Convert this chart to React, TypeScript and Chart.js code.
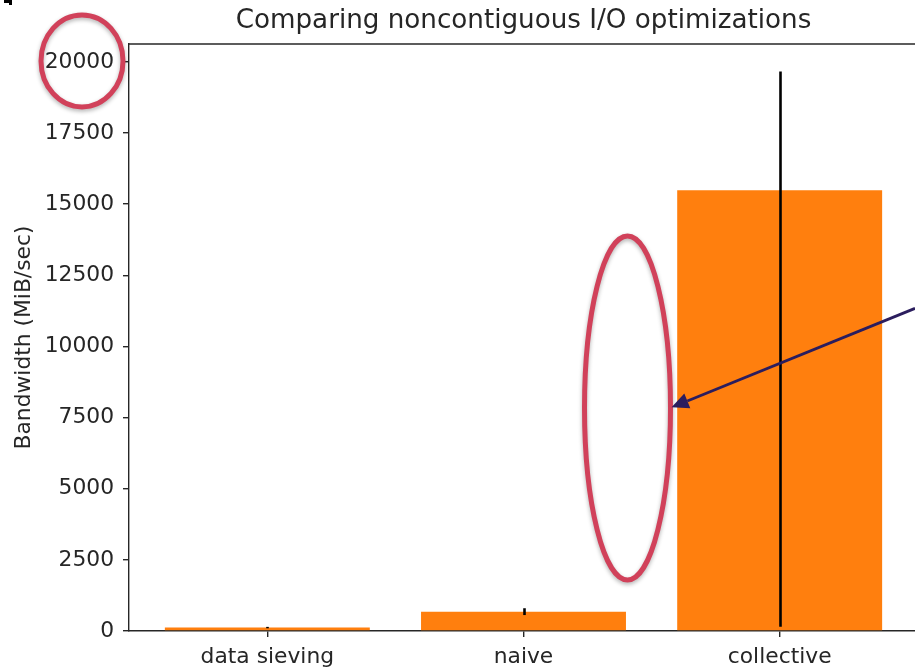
import React, { useEffect, useRef } from "react";
import { Chart, registerables } from "chart.js";

Chart.register(...registerables);

const categories = ["data sieving", "naive", "collective"];
const bandwidth = [120, 680, 15490];
const errLow = [95, 560, 150];
const errHigh = [145, 800, 19660];
const yTicks = [0, 2500, 5000, 7500, 10000, 12500, 15000, 17500, 20000];
const titleText = "Comparing noncontiguous I/O optimizations";
const yLabel = "Bandwidth (MiB/sec)";

const FONT = "'DejaVu Sans', sans-serif";
const INK = "#262626";

const overlayPlugin = {
  id: "overlay",
  afterDatasetsDraw(chart: any) {
    const { ctx, scales } = chart;
    const xs = scales.x;
    const ys = scales.y;
    ctx.save();
    ctx.strokeStyle = "#000";
    ctx.lineWidth = 2.6;
    categories.forEach((_, i) => {
      const px = Math.round(xs.getPixelForValue(i)) + 0.5;
      ctx.beginPath();
      ctx.moveTo(px, ys.getPixelForValue(errLow[i]));
      ctx.lineTo(px, ys.getPixelForValue(errHigh[i]));
      ctx.stroke();
    });
    ctx.restore();
  },
  afterDraw(chart: any) {
    const { ctx, chartArea, scales } = chart;
    const xs = scales.x;
    const ys = scales.y;
    ctx.save();
    ctx.strokeStyle = INK;
    ctx.lineWidth = 1.4;
    ctx.beginPath();
    ctx.moveTo(chartArea.left, chartArea.top);
    ctx.lineTo(chartArea.right, chartArea.top);
    ctx.stroke();

    ctx.fillStyle = INK;
    ctx.font = `26.2px ${FONT}`;
    ctx.textAlign = "center";
    ctx.textBaseline = "alphabetic";
    ctx.fillText(titleText, (chartArea.left + chartArea.right) / 2, 27.5);

    ctx.save();
    ctx.translate(30, (chartArea.top + chartArea.bottom) / 2);
    ctx.rotate(-Math.PI / 2);
    ctx.font = `21.8px ${FONT}`;
    ctx.textAlign = "center";
    ctx.textBaseline = "alphabetic";
    ctx.fillText(yLabel, 0, 0);
    ctx.restore();

    ctx.save();
    ctx.shadowColor = "rgba(0,0,0,0.3)";
    ctx.shadowBlur = 4;
    ctx.shadowOffsetY = 2;
    ctx.strokeStyle = "#d1415a";
    ctx.lineWidth = 5;
    ctx.beginPath();
    ctx.ellipse(82, ys.getPixelForValue(20000) - 1, 41, 46, 0, 0, Math.PI * 2);
    ctx.stroke();
    ctx.beginPath();
    ctx.ellipse(xs.getPixelForValue(1.406), ys.getPixelForValue(7840), 43, 172, 0, 0, Math.PI * 2);
    ctx.stroke();
    ctx.restore();

    const x1 = 915, y1 = ys.getPixelForValue(11340);
    const x2 = xs.getPixelForValue(1.578), y2 = ys.getPixelForValue(7860);
    const ang = Math.atan2(y2 - y1, x2 - x1);
    ctx.strokeStyle = "#2b1d5e";
    ctx.fillStyle = "#2b1d5e";
    ctx.lineWidth = 2.8;
    const hl = 17, hw = 8;
    const bx = x2 - hl * Math.cos(ang), by = y2 - hl * Math.sin(ang);
    ctx.beginPath();
    ctx.moveTo(x1, y1);
    ctx.lineTo(bx, by);
    ctx.stroke();
    ctx.beginPath();
    ctx.moveTo(x2, y2);
    ctx.lineTo(bx + hw * Math.sin(ang), by - hw * Math.cos(ang));
    ctx.lineTo(bx - hw * Math.sin(ang), by + hw * Math.cos(ang));
    ctx.closePath();
    ctx.fill();

    ctx.fillStyle = "#000";
    ctx.fillRect(4, 0, 8, 3);
    ctx.fillRect(9, 0, 3, 5);
    ctx.restore();
  },
};

export default function App() {
  const ref = useRef<HTMLCanvasElement>(null);
  useEffect(() => {
    document.body.style.margin = "0";
    const chart = new Chart(ref.current!, {
      type: "bar",
      data: {
        datasets: [
          {
            data: categories.map((_, i) => ({ x: i, y: bandwidth[i] })),
            backgroundColor: "#ff7f0e",
            borderWidth: 0,
            barPercentage: 0.8,
            categoryPercentage: 1.0,
          },
        ],
      },
      options: {
        animation: false,
        responsive: false,
        devicePixelRatio: 1,
        layout: { padding: { left: 0, top: 44, right: 12, bottom: 0 } },
        plugins: { legend: { display: false }, tooltip: { enabled: false }, title: { display: false } },
        scales: {
          x: {
            type: "linear",
            offset: false,
            min: -0.54,
            max: 2.54,
            afterBuildTicks: (s: any) => {
              s.ticks = categories.map((_, i) => ({ value: i }));
            },
            afterFit: (s: any) => {
              s.height = 36;
            },
            ticks: {
              callback: (v: any) => categories[v] ?? "",
              font: { family: FONT, size: 21.8 },
              color: INK,
              padding: 7,
              maxRotation: 0,
              autoSkip: false,
            },
            grid: { display: true, offset: false, drawOnChartArea: false, drawTicks: true, tickLength: 6, color: INK, lineWidth: 1.4 },
            border: { display: true, color: INK, width: 1.4 },
          },
          y: {
            type: "linear",
            min: 0,
            max: 20630,
            afterBuildTicks: (s: any) => {
              s.ticks = yTicks.map((v) => ({ value: v }));
            },
            afterFit: (s: any) => {
              s.width = 129;
            },
            ticks: {
              callback: (v: any) => String(v),
              font: { family: FONT, size: 21.8 },
              color: INK,
              padding: 9,
              autoSkip: false,
            },
            grid: { display: true, drawOnChartArea: false, drawTicks: true, tickLength: 6, color: INK, lineWidth: 1.4 },
            border: { display: true, color: INK, width: 1.4 },
          },
        },
      },
      plugins: [overlayPlugin],
    } as any);
    return () => chart.destroy();
  }, []);
  return (
    <div style={{ position: "absolute", left: 0, top: 0, width: 915, height: 667, overflow: "hidden", background: "#fff" }}>
      <canvas ref={ref} width={930} height={667} style={{ display: "block" }} />
    </div>
  );
}
